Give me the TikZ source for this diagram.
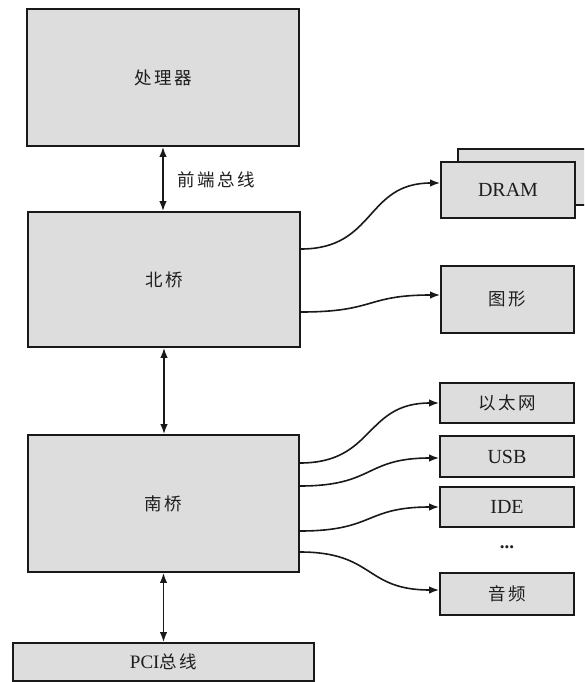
\documentclass[tikz,border=0pt]{standalone}
\usepackage{fontspec}
\setmainfont{Liberation Serif}
\newfontfamily\cjk{Noto Sans CJK SC}[LetterSpace=14]
\usetikzlibrary{arrows.meta}
\definecolor{boxgray}{RGB}{221,221,221}
\definecolor{edgecol}{RGB}{25,25,25}
\definecolor{txtcol}{RGB}{30,30,30}
\begin{document}
\begin{tikzpicture}[x=1pt,y=-1pt,
  box/.style={draw=edgecol, line width=1.8pt, fill=boxgray, inner sep=0pt, text=txtcol},
  zh/.style={font=\fontsize{17.5}{19}\selectfont\cjk},
  lat/.style={font=\fontsize{20}{22}\selectfont},
  conn/.style={draw=edgecol, line width=1.6pt, -{Latex[length=10pt,width=7.5pt]}},
  dconn/.style={draw=edgecol, line width=1.7pt, {Latex[length=10pt,width=7.5pt]}-{Latex[length=10pt,width=7.5pt]}}
]
\useasboundingbox (0,0) rectangle (584,682);
\clip (0,0) rectangle (584,682);

% left column
\node[box, zh, minimum width=272pt, minimum height=137pt] (cpu) at (163,77.5) {处理器};
\node[box, zh, minimum width=272pt, minimum height=135pt] (nb) at (164,279.5) {北桥};
\node[box, zh, minimum width=271pt, minimum height=137pt] (sb) at (163.5,503.5) {南桥};
\node[box, minimum width=301pt, minimum height=38pt] (pci) at (163.5,662)
  {{\fontsize{19}{21}\selectfont PCI}{\fontsize{17.5}{19}\selectfont\cjk 总线}};

% right column
\node[box, minimum width=134pt, minimum height=56pt] (dramback) at (525,177) {};
\node[box, lat, minimum width=134pt, minimum height=56pt] (dram) at (508,190) {DRAM};
\node[box, zh, minimum width=133pt, minimum height=67pt] (gfx) at (507.5,299.5) {图形};
\node[box, zh, minimum width=134pt, minimum height=40pt] (eth) at (507,403) {以太网};
\node[box, lat, minimum width=134pt, minimum height=41pt] (usb) at (507,456.5) {USB};
\node[box, lat, minimum width=134pt, minimum height=40pt] (ide) at (507,507) {IDE};
\node[text=txtcol, font=\fontsize{19}{20}\selectfont\bfseries] (dots) at (507,547) {...};
\node[box, zh, minimum width=134pt, minimum height=42pt] (audio) at (507,594) {音频};

% vertical buses
\draw[dconn] (cpu.south) -- (cpu.south |- nb.north);
\node[zh, text=txtcol, anchor=west] (fsb) at (174,180) {前端总线};
\draw[dconn] (nb.south) -- (nb.south |- sb.north);
\draw[dconn] (sb.south) -- (sb.south |- pci.north);

% north bridge links
\draw[conn] ([yshift=30.5pt]nb.east) .. controls +(75,0) and +(-75,0) .. ([yshift=7pt]dram.west);
\draw[conn] ([yshift=-32.5pt]nb.east) .. controls +(75,0) and +(-75,0) .. ([yshift=4.5pt]gfx.west);

% south bridge links
\draw[conn] ([yshift=40.5pt]sb.east) .. controls +(75,0) and +(-75,0) .. (eth.west);
\draw[conn] ([yshift=17.5pt]sb.east) .. controls +(75,0) and +(-75,0) .. ([yshift=-1.5pt]usb.west);
\draw[conn] ([yshift=-27.5pt]sb.east) .. controls +(75,0) and +(-75,0) .. (ide.west);
\draw[conn] ([yshift=-48.5pt]sb.east) .. controls +(75,0) and +(-75,0) .. ([yshift=4pt]audio.west);
\end{tikzpicture}
\end{document}
